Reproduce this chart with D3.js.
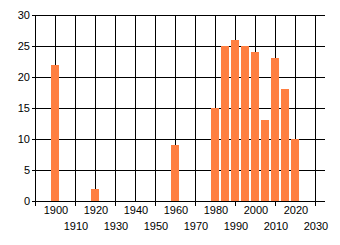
<!DOCTYPE html>
<html lang="en">
  <head>
    <meta charset="utf-8" />
    <script src="https://d3js.org/d3.v7.min.js"></script>
    <style type="text/css">
      body {
        margin: 0;
        background: white;
      }
      svg text {
        font-family: "Liberation Sans", Arial, sans-serif;
        font-size: 11px;
        fill: black;
      }
    </style>
  </head>
  <body>
    <svg id="chart" width="340" height="245"></svg>
    <script>
      // data
      let years = [1900, 1920, 1960, 1980, 1985, 1990, 1995, 2000, 2005, 2010, 2015, 2020];
      let values = [22, 2, 9, 15, 25, 26, 25, 24, 13, 23, 18, 10];
      let yTicks = [0, 5, 10, 15, 20, 25, 30];
      let xTicks = [1890, 1900, 1910, 1920, 1930, 1940, 1950, 1960, 1970, 1980, 1990, 2000, 2010, 2020, 2030];

      let svg = d3.select("#chart");
      let plotLeft = 35, plotRight = 325, plotTop = 15, plotBottom = 201;

      let x = d3.scaleLinear([1890, 2035], [plotLeft, plotRight]);
      let y = d3.scaleLinear([0, 30], [plotBottom, plotTop]);

      // horizontal gridlines + y labels
      let gy = svg.append("g");
      gy.selectAll("line")
        .data(yTicks)
        .enter()
        .append("line")
        .attr("x1", plotLeft - 3)
        .attr("x2", plotRight)
        .attr("y1", d => Math.round(y(d)) + 0.5)
        .attr("y2", d => Math.round(y(d)) + 0.5)
        .attr("stroke", "black");
      gy.selectAll("text")
        .data(yTicks)
        .enter()
        .append("text")
        .attr("x", 30)
        .attr("y", d => Math.round(y(d)) + 4)
        .attr("text-anchor", "end")
        .text(d => d);

      // vertical gridlines
      let gx = svg.append("g");
      gx.selectAll("line.grid")
        .data(xTicks)
        .enter()
        .append("line")
        .attr("class", "grid")
        .attr("x1", d => Math.round(x(d)) + 0.5)
        .attr("x2", d => Math.round(x(d)) + 0.5)
        .attr("y1", plotTop)
        .attr("y2", plotBottom)
        .attr("stroke", "black");

      // bars
      svg.append("g")
        .selectAll("rect")
        .data(years)
        .enter()
        .append("rect")
        .attr("x", d => Math.round(x(d)) - 4)
        .attr("width", 8)
        .attr("y", (d, i) => Math.round(y(values[i])))
        .attr("height", (d, i) => Math.round(y(0)) - Math.round(y(values[i])))
        .attr("fill", "#ff7f41");

      // ticks on the staggered positions, x labels
      let odd = xTicks.filter((d, i) => i % 2 === 0);
      gx.selectAll("line.tick")
        .data(odd)
        .enter()
        .append("line")
        .attr("class", "tick")
        .attr("x1", d => Math.round(x(d)) + 0.5)
        .attr("x2", d => Math.round(x(d)) + 0.5)
        .attr("y1", plotBottom)
        .attr("y2", plotBottom + 5)
        .attr("stroke", "black");
      gx.selectAll("text")
        .data(xTicks.slice(1))
        .enter()
        .append("text")
        .attr("x", d => Math.round(x(d)) + 1)
        .attr("y", (d, i) => (i % 2 === 0 ? 214 : 230))
        .attr("text-anchor", "middle")
        .text(d => d);
    </script>
  </body>
</html>
